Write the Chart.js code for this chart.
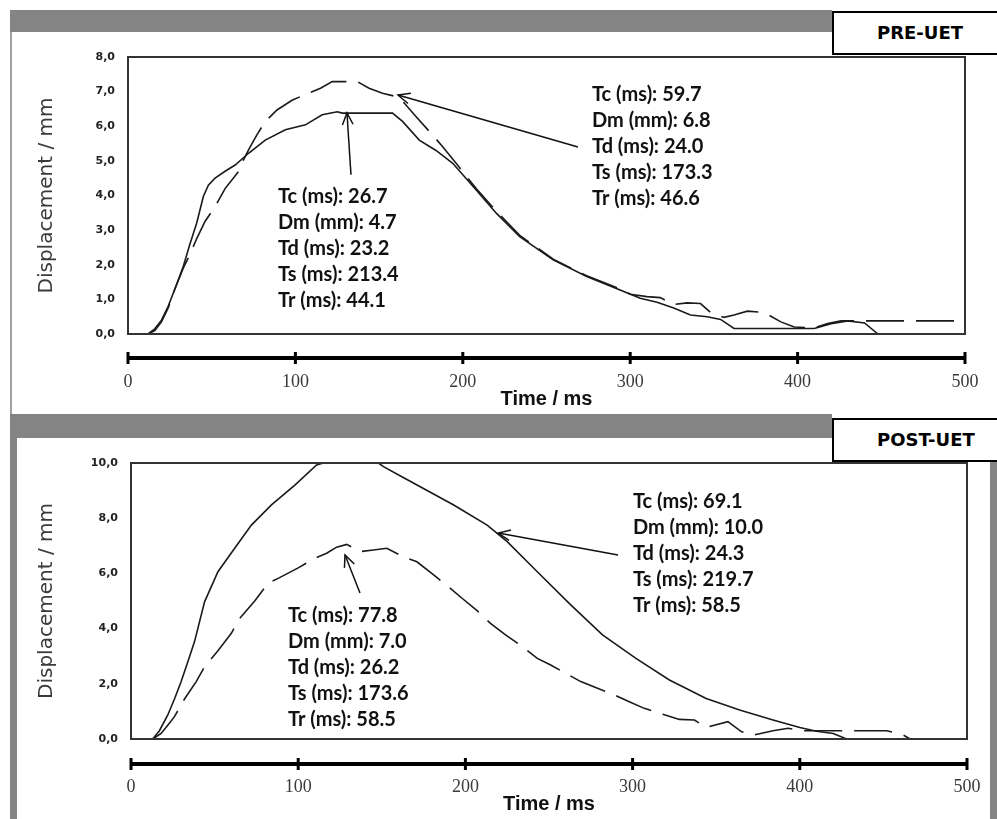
<!DOCTYPE html>
<html>
<head>
<meta charset="utf-8">
<script src="https://cdn.jsdelivr.net/npm/chart.js@4.4.1/dist/chart.umd.min.js"></script>
<style>
body { margin: 0; background: #fff; }
#wrap { position: relative; width: 997px; height: 819px; overflow: hidden; }
canvas { position: absolute; left: 0; }
.banda { position: absolute; background: #848484; z-index: 2; }
.caixa { position: absolute; left: 832px; width: 200px; height: 40px; border: 2px solid #000; background: #fff;
         font: bold 18px "DejaVu Sans"; line-height: 40px; padding-left: 43px; z-index: 3; color: #000; }
</style>
</head>
<body>
<div id="wrap">
  <canvas id="graficoPre" width="997" height="410" style="top:0"></canvas>
  <canvas id="graficoPos" width="997" height="409" style="top:410px"></canvas>

  <div class="banda" style="left:10px;top:10px;width:822px;height:22px"></div>
  <div class="banda" style="left:10px;top:32px;width:2px;height:382px;background:#a0a0a0"></div>
  <div class="caixa" style="top:11px">PRE-UET</div>

  <div class="banda" style="left:10px;top:414px;width:822px;height:24px"></div>
  <div class="banda" style="left:10px;top:414px;width:7px;height:405px"></div>
  <div class="banda" style="left:990px;top:462px;width:7px;height:357px"></div>
  <div class="caixa" style="top:418px">POST-UET</div>
</div>

<script>
// PRE-UET - linha continua
const tempoPreCont = [12, 16, 20, 24, 28, 33, 37, 41, 45, 48, 52, 58, 64, 72, 82, 94, 106, 116, 125, 128, 158, 164, 174, 184, 194, 208, 220, 234, 254, 274, 294, 306, 316, 326, 336, 346, 354, 362, 410, 420, 430, 440, 448];
const despPreCont = [0, 0.15, 0.4, 0.8, 1.3, 1.95, 2.6, 3.2, 3.97, 4.3, 4.5, 4.7, 4.88, 5.22, 5.6, 5.9, 6.04, 6.33, 6.42, 6.38, 6.38, 6.14, 5.6, 5.3, 4.93, 4.16, 3.49, 2.81, 2.14, 1.66, 1.27, 1.03, 0.92, 0.75, 0.55, 0.5, 0.42, 0.16, 0.16, 0.3, 0.38, 0.32, 0];

// PRE-UET - linha tracejada
const tempoPreTrac = [12, 16, 20, 24, 28, 33, 37, 41, 46, 52, 58, 66, 69, 72, 77, 82, 89, 98, 108, 115, 122, 137, 144, 152, 160, 165, 172, 180, 188, 196, 208, 220, 234, 254, 274, 294, 300, 310, 318, 326, 334, 342, 348, 356, 362, 370, 380, 390, 398, 410, 418, 426, 500];
const despPreTrac = [0, 0.1, 0.35, 0.75, 1.3, 1.9, 2.3, 2.75, 3.25, 3.68, 4.2, 4.69, 5.03, 5.32, 5.75, 6.14, 6.47, 6.75, 6.96, 7.1, 7.29, 7.29, 7.1, 6.95, 6.86, 6.67, 6.28, 5.85, 5.41, 4.93, 4.2, 3.55, 2.85, 2.16, 1.68, 1.3, 1.15, 1.08, 1.05, 0.85, 0.9, 0.88, 0.62, 0.48, 0.55, 0.66, 0.62, 0.35, 0.2, 0.18, 0.3, 0.38, 0.38];

// POST-UET - linha continua
const tempoPosCont = [13, 17, 22, 26, 30, 34, 38, 44, 52, 62, 72, 84, 98, 111, 115, 148, 151, 162, 173, 193, 213, 225, 243, 263, 282, 302, 322, 344, 364, 384, 400, 410, 420, 428];
const despPosCont = [0, 0.3, 0.87, 1.45, 2.08, 2.8, 3.53, 4.97, 6.06, 6.91, 7.75, 8.48, 9.2, 9.93, 10, 10, 9.87, 9.5, 9.14, 8.48, 7.75, 7.15, 6.06, 4.86, 3.77, 2.92, 2.14, 1.47, 1.05, 0.69, 0.42, 0.28, 0.2, 0];

// POST-UET - linha tracejada
const tempoPosTrac = [13, 18, 22, 26, 32, 39, 44, 52, 60, 65, 74, 82, 88, 100, 110, 117, 123, 129, 137, 145, 153, 163, 171, 181, 191, 198, 207, 215, 224, 234, 243, 251, 260, 269, 279, 289, 298, 307, 318, 328, 337, 344, 357, 365, 372, 384, 393, 402, 419, 452, 462, 466, 500];
const despPosTrac = [0, 0.2, 0.5, 0.81, 1.45, 2.08, 2.62, 3.2, 3.83, 4.37, 5.0, 5.64, 5.82, 6.2, 6.55, 6.73, 6.95, 7.05, 6.79, 6.85, 6.91, 6.6, 6.42, 5.95, 5.46, 5.1, 4.65, 4.19, 3.77, 3.35, 2.92, 2.68, 2.38, 2.08, 1.84, 1.6, 1.35, 1.11, 0.9, 0.71, 0.69, 0.42, 0.63, 0.27, 0.14, 0.3, 0.39, 0.3, 0.3, 0.3, 0.14, 0, 0];

// textos das anotacoes
const notaPreCont = ['Tc (ms): 26.7', 'Dm (mm): 4.7', 'Td (ms): 23.2', 'Ts (ms): 213.4', 'Tr (ms): 44.1'];
const notaPreTrac = ['Tc (ms): 59.7', 'Dm (mm): 6.8', 'Td (ms): 24.0', 'Ts (ms): 173.3', 'Tr (ms): 46.6'];
const notaPosTrac = ['Tc (ms): 77.8', 'Dm (mm): 7.0', 'Td (ms): 26.2', 'Ts (ms): 173.6', 'Tr (ms): 58.5'];
const notaPosCont = ['Tc (ms): 69.1', 'Dm (mm): 10.0', 'Td (ms): 24.3', 'Ts (ms): 219.7', 'Tr (ms): 58.5'];

function pares(t, v) {
    return t.map((x, i) => ({ x: x, y: v[i] }));
}

function desenharSeta(ctx, x1, y1, x2, y2) {
    ctx.beginPath();
    ctx.moveTo(x1, y1);
    ctx.lineTo(x2, y2);
    ctx.stroke();
    const ang = Math.atan2(y2 - y1, x2 - x1), L = 13, a = 0.42;
    ctx.beginPath();
    ctx.moveTo(x2 - L * Math.cos(ang - a), y2 - L * Math.sin(ang - a));
    ctx.lineTo(x2, y2);
    ctx.lineTo(x2 - L * Math.cos(ang + a), y2 - L * Math.sin(ang + a));
    ctx.stroke();
}

// moldura, eixo separado e anotacoes
const pluginMoldura = {
    id: 'moldura',
    afterDraw(chart, args, opts) {
        const ctx = chart.ctx, area = chart.chartArea;
        const sx = chart.scales.x, sy = chart.scales.y;
        ctx.save();
        ctx.strokeStyle = '#333';
        ctx.lineWidth = 2;
        ctx.strokeRect(area.left, area.top, area.right - area.left, area.bottom - area.top);

        const yBarra = area.bottom + opts.distBarra;
        ctx.strokeStyle = '#000';
        ctx.lineWidth = 4;
        ctx.beginPath();
        ctx.moveTo(sx.left, yBarra);
        ctx.lineTo(sx.right, yBarra);
        ctx.stroke();
        ctx.lineWidth = 3;
        sx.ticks.forEach(tk => {
            const px = sx.getPixelForValue(tk.value);
            ctx.beginPath();
            ctx.moveTo(px, yBarra - 6);
            ctx.lineTo(px, yBarra + 6);
            ctx.stroke();
        });

        ctx.lineWidth = 1.5;
        ctx.strokeStyle = '#111';
        ctx.fillStyle = '#111';
        ctx.font = 'bold 20px Lato';
        ctx.textBaseline = 'middle';
        ctx.textAlign = 'left';
        opts.notas.forEach(n => {
            desenharSeta(ctx, sx.getPixelForValue(n.seta[0]), sy.getPixelForValue(n.seta[1]),
                sx.getPixelForValue(n.seta[2]), sy.getPixelForValue(n.seta[3]));
            const px = sx.getPixelForValue(n.tx), py = sy.getPixelForValue(n.ty);
            n.linhas.forEach((l, i) => ctx.fillText(l, px, py + i * 26));
        });
        ctx.restore();
    }
};

function criarGrafico(idCanvas, conf) {
    const ds = (dados, tracejado) => ({
        data: dados,
        borderColor: '#1a1a1a',
        borderWidth: 1.6,
        borderDash: tracejado ? [38, 12] : [],
        pointRadius: 0,
        tension: 0,
        fill: false
    });
    return new Chart(document.getElementById(idCanvas), {
        type: 'line',
        data: { datasets: [ds(conf.cont, false), ds(conf.trac, true)] },
        options: {
            responsive: false,
            animation: false,
            layout: { padding: { top: conf.topo, right: conf.direita, left: 0, bottom: 0 } },
            plugins: {
                legend: { display: false },
                tooltip: { enabled: false },
                moldura: { distBarra: conf.distBarra, notas: conf.notas }
            },
            scales: {
                x: {
                    type: 'linear', min: 0, max: 500,
                    grid: { display: false, drawTicks: true, tickLength: conf.padX },
                    border: { display: false },
                    ticks: {
                        stepSize: 100, padding: 0, maxRotation: 0, autoSkip: false,
                        color: '#3a3a3a', font: { family: 'Liberation Serif', size: 18 }
                    },
                    title: {
                        display: true, text: 'Time / ms', color: '#111',
                        font: { family: 'Liberation Sans', weight: 'bold', size: 20, lineHeight: 1 },
                        padding: { top: 0, bottom: conf.padTitulo }
                    },
                    afterFit: s => { s.height = conf.alturaX; }
                },
                y: {
                    min: 0, max: conf.maxY,
                    grid: { display: false, drawTicks: false },
                    border: { display: false },
                    ticks: {
                        stepSize: conf.passoY, padding: 13, color: '#222',
                        font: { family: 'DejaVu Sans', weight: 'bold', size: 11 },
                        callback: v => v.toFixed(1).replace('.', ',')
                    },
                    title: {
                        display: true, text: 'Displacement / mm', color: '#3a3a3a',
                        font: { family: 'DejaVu Sans', size: 20 },
                        padding: { top: 35, bottom: 0 }
                    },
                    afterFit: s => { s.width = conf.larguraY; }
                }
            }
        },
        plugins: [pluginMoldura]
    });
}

criarGrafico('graficoPre', {
    cont: pares(tempoPreCont, despPreCont),
    trac: pares(tempoPreTrac, despPreTrac),
    maxY: 8, passoY: 1, topo: 57, direita: 32, larguraY: 128, alturaX: 76,
    padX: 37, padTitulo: 1, distBarra: 24,
    notas: [
        { linhas: notaPreCont, tx: 89.6, ty: 3.96, seta: [133.2, 4.6, 130.8, 6.39] },
        { linhas: notaPreTrac, tx: 277.2, ty: 6.91, seta: [268.8, 5.4, 161.3, 6.9] }
    ]
});

criarGrafico('graficoPos', {
    cont: pares(tempoPosCont, despPosCont),
    trac: pares(tempoPosTrac, despPosTrac),
    maxY: 10, passoY: 2, topo: 53, direita: 30, larguraY: 131, alturaX: 80,
    padX: 37, padTitulo: 5, distBarra: 25,
    notas: [
        { linhas: notaPosTrac, tx: 93.9, ty: 4.49, seta: [136.96, 5.29, 128, 6.67] },
        { linhas: notaPosCont, tx: 300.2, ty: 8.6, seta: [291.3, 6.67, 219.7, 7.46] }
    ]
});
</script>
</body>
</html>
